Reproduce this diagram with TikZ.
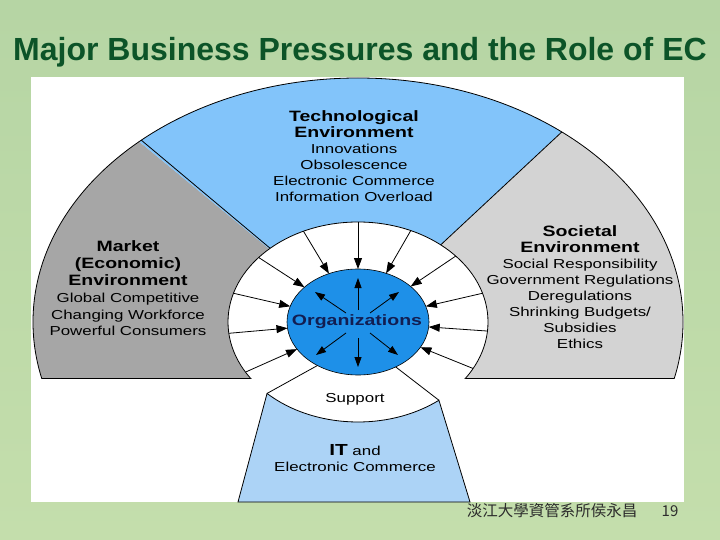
\documentclass[tikz,border=0pt]{standalone}
\usepackage{fontspec}
\setmainfont{Liberation Sans}
\newfontfamily\diag{Liberation Sans}[FakeStretch=1.3]
\newfontfamily\cjk{Noto Sans CJK TC}
\usetikzlibrary{arrows.meta,shapes.geometric,calc}
\definecolor{bggreen}{RGB}{182,213,164}
\definecolor{bggreen2}{RGB}{196,222,172}
\definecolor{titlegreen}{RGB}{12,84,40}
\definecolor{techblue}{RGB}{130,196,250}
\definecolor{mktgray}{RGB}{166,166,166}
\definecolor{socgray}{RGB}{211,211,211}
\definecolor{itblue}{RGB}{172,211,246}
\definecolor{orgblue}{RGB}{30,144,232}
\definecolor{orgtext}{RGB}{18,30,82}
\definecolor{footgray}{RGB}{45,45,45}
\tikzset{
  oval/.style={ellipse, inner sep=0pt, outer sep=0pt},
  txt/.style={align=center, inner sep=0pt, font=\diag\fontsize{13}{16}\selectfont},
  inarrow/.style={line width=0.8pt, -{Triangle[length=11pt,width=8pt]}},
  outarrow/.style={line width=0.8pt, -{Triangle[length=10pt,width=7pt]}},
  edge/.style={line width=0.8pt}
}
\newcommand{\hd}{\bfseries\fontsize{15}{16}\selectfont}
\begin{document}
\begin{tikzpicture}[x=1pt,y=1pt]
\useasboundingbox (0,0) rectangle (720,-540);
\shade[top color=bggreen, bottom color=bggreen2] (0,0) rectangle (720,-540);
\fill[white] (31,-77) rectangle (684,-502);

\node[anchor=base, font=\bfseries\fontsize{32}{36}\selectfont, text=titlegreen] (title) at (360,-61) {Major Business Pressures and the Role of EC};

\coordinate (C) at (358,-322);
\node[oval, minimum width=650pt, minimum height=488pt] (outer) at (C) {};

% sectors
\begin{scope}
  \clip (0,-378) rectangle (720,0);
  \clip (C) ellipse [x radius=325, y radius=244];
  \fill[mktgray] (C) -- ($(C)+(140.5:800)$) -- (-500,187) -- (-500,-700) -- (358,-700) -- cycle;
  \fill[techblue] (C) -- ($(C)+(140.5:800)$) -- ($(C)+(43:800)$) -- cycle;
  \fill[socgray] (C) -- ($(C)+(43:800)$) -- (1200,224) -- (1200,-700) -- (358,-700) -- cycle;
\end{scope}

\node[oval, fill=white, minimum width=260pt, minimum height=200pt] (inner) at (C) {};

\begin{scope}
  \clip (0,-378.4) rectangle (720,0);
  \draw[edge] (C) ellipse [x radius=325, y radius=244];
  \draw[edge] (C) ellipse [x radius=130, y radius=100];
\end{scope}
\draw[edge] (41.7,-378) -- (250.3,-378);
\draw[edge] (465.7,-378) -- (674.3,-378);
\draw[edge] (inner.140.5) -- (outer.140.5);
\draw[edge] (inner.43) -- (outer.43);

% IT trapezoid
\path (C) ++(225.6:130 and 100) coordinate (tl);
\path (C) ++(308.5:130 and 100) coordinate (tr);
\coordinate (bl) at (238,-502);
\coordinate (br) at (470,-502);
\draw[edge, fill=itblue] (bl) -- (tl) arc[start angle=225.6, end angle=308.5, x radius=130, y radius=100] -- (br) -- cycle;

% organizations
\node[oval, fill=orgblue, draw=black, line width=0.6pt, minimum width=142pt, minimum height=106pt] (org) at (C) {};
\node[inner sep=0pt, font=\diag\bfseries\fontsize{15}{16}\selectfont, text=orgtext] (orgt) at (357,-322) {Organizations};

\foreach \a in {90,121,60,147,34,167,13,185,356,204,338}
  \draw[inarrow] (inner.\a) -- (org.\a);
\draw[edge] (tl) -- (org.227.5);
\draw[edge] (tr) -- (org.310.4);

\draw[outarrow] ($(org.center)+(0,12)$) -- ($(org.center)+(0,44)$);
\draw[outarrow] ($(org.center)+(0,-16)$) -- ($(org.center)+(0,-45)$);
\draw[outarrow] ($(org.center)+(-12,9)$) -- ($(org.center)+(-43,30)$);
\draw[outarrow] ($(org.center)+(12,9)$) -- ($(org.center)+(41,30)$);
\draw[outarrow] ($(org.center)+(-12,-11)$) -- ($(org.center)+(-42,-33)$);
\draw[outarrow] ($(org.center)+(12,-11)$) -- ($(org.center)+(40,-33)$);

% texts
\node[txt] (tech) at (354,-156.5) {{\hd Technological}\\{\hd Environment}\\Innovations\\Obsolescence\\Electronic Commerce\\Information Overload};
\node[txt, font=\diag\fontsize{13}{16.8}\selectfont] (market) at (128,-288.5) {{\hd Market}\\{\hd (Economic)}\\{\hd Environment}\\Global Competitive\\Changing Workforce\\Powerful Consumers};
\node[txt] (soc) at (580,-287.5) {{\hd Societal}\\{\hd Environment}\\Social Responsibility\\Government Regulations\\Deregulations\\Shrinking Budgets/\\Subsidies\\Ethics};
\node[txt, anchor=base] (support) at (355,-402) {Support};
\node[txt] (itec) at (355,-458) {{\bfseries\fontsize{16}{16}\selectfont IT} and\\Electronic Commerce};

% footer
\node[inner sep=0pt, font=\cjk\fontsize{15.5}{18}\selectfont, text=footgray] (foot) at (552,-511) {淡江大學資管系所侯永昌};
\node[inner sep=0pt, font=\cjk\fontsize{15}{18}\selectfont, text=footgray] (pg) at (670,-511) {19};
\end{tikzpicture}
\end{document}
